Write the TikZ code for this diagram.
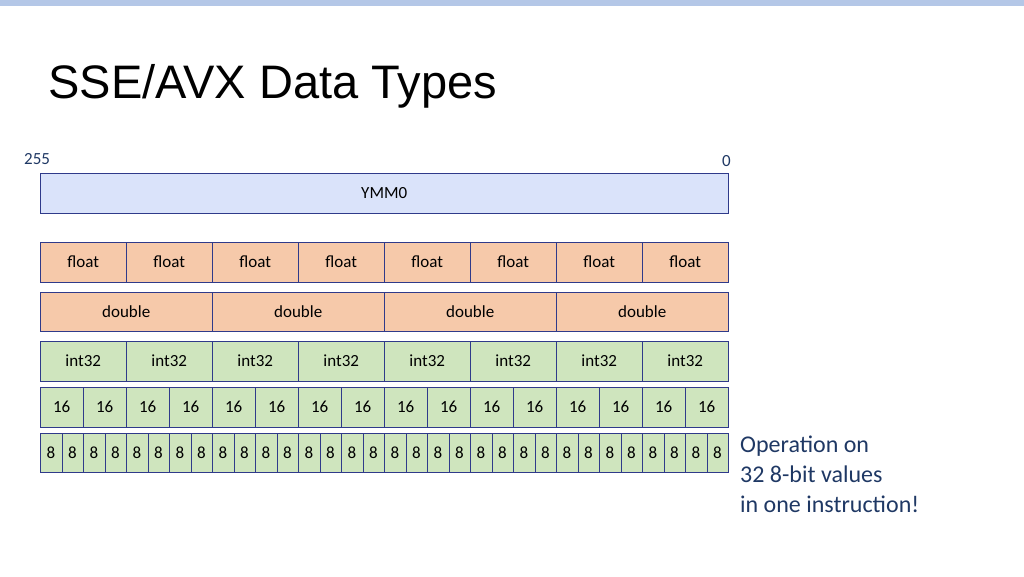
\documentclass[tikz,border=0pt]{standalone}
\usepackage{fontspec}
\setmainfont{Carlito}
\newfontfamily\titlefont{Liberation Sans}
\usetikzlibrary{positioning}
\definecolor{edgeblue}{HTML}{2F3A8A}
\definecolor{textblue}{HTML}{1F3864}
\definecolor{ymmfill}{HTML}{DAE3FA}
\definecolor{fpfill}{HTML}{F6C9AA}
\definecolor{intfill}{HTML}{CFE5BE}
\definecolor{barblue}{HTML}{B4C7E7}
\tikzset{
  cell/.style={draw=edgeblue, inner sep=0pt, minimum height=40pt, font=\fontsize{17}{19}\selectfont},
  fpcell/.style={cell, fill=fpfill},
  intcell/.style={cell, fill=intfill},
}
\begin{document}
\begin{tikzpicture}[x=1pt, y=-1pt]
    \useasboundingbox (0,0) rectangle (1024,576);
    % Top bar and title
    \fill[barblue] (0,0) rectangle (1024,6);
    \node[anchor=west, font=\titlefont\fontsize{47}{52}\selectfont] (title) at (45,86) {SSE/AVX Data Types};

    % Register
    \node[anchor=south west, text=textblue, font=\fontsize{17}{19}\selectfont, inner sep=0pt] (hi) at (24,165) {255};
    \node[anchor=south east, text=textblue, font=\fontsize{17}{19}\selectfont, inner sep=0pt] (lo) at (731,167) {0};
    \node[cell, fill=ymmfill, anchor=north west, minimum width=688pt] (ymm) at (40,173) {YMM0};

    % Floats
    \foreach \i in {0,...,7}
        \node[fpcell, anchor=north west, minimum width=86pt] (flt\i) at (40+86*\i,242) {float};
    % Doubles
    \foreach \i in {0,...,3}
        \node[fpcell, anchor=north west, minimum width=172pt, minimum height=39pt] (dbl\i) at (40+172*\i,292) {double};
    % Int32
    \foreach \i in {0,...,7}
        \node[intcell, anchor=north west, minimum width=86pt] (itw\i) at (40+86*\i,341) {int32};
    % Int16
    \foreach \i in {0,...,15}
        \node[intcell, anchor=north west, minimum width=43pt] (ish\i) at (40+43*\i,387) {16};
    % Int8
    \foreach \i in {0,...,31}
        \node[intcell, anchor=north west, minimum width=21.5pt, minimum height=39pt] (ich\i) at (40+21.5*\i,433) {8};

    % Note
    \node[anchor=north west, align=left, text=textblue, inner sep=0pt,
          font=\fontsize{24}{30}\selectfont] (note) at (740,436)
        {Operation on\\32 8-bit values\\in one instruction!};
\end{tikzpicture}
\end{document}
